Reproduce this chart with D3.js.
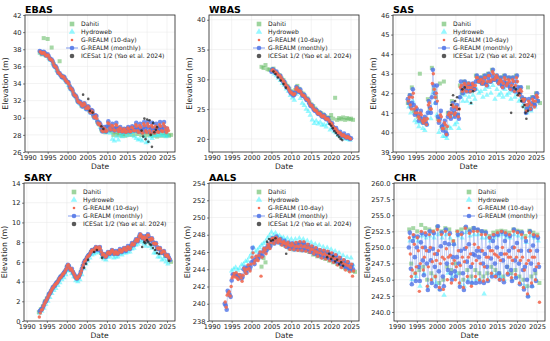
<!DOCTYPE html>
<html><head><meta charset="utf-8">
<script src="https://cdn.jsdelivr.net/npm/d3@7"></script>
<style>body{margin:0;background:#fff}svg{display:block}text{font-family:"DejaVu Sans",sans-serif}</style>
</head><body>
<script>
// ---------------- DATA ----------------
const xTickYears = [1990,1995,2000,2005,2010,2015,2020,2025];
const legendLabels = ["Dahiti","Hydroweb","G-REALM (10-day)","G-REALM (monthly)","ICESat 1/2 (Yao et al. 2024)"];

// EBAS
const ebasYTicks = [26,28,30,32,34,36,38,40,42];
const ebasMonthly = [37.8,37.7,37.5,37.6, 37.7,37.6,37.3,37.3, 37.4,37.2,36.9,36.8, 36.8,36.6,36.2,36.0, 36.0,35.8,35.4,35.2, 35.2,35.0,34.8,34.7, 34.8,34.7,34.4,34.2, 34.2,34.1,33.7,33.4, 33.4,33.2,32.8,32.6, 32.6,32.4,32.0,31.8, 31.9,31.8,31.5,31.3, 31.6,31.7,31.3,31.0, 31.3,31.3,30.9,30.6, 30.9,30.8,30.3,30.0, 30.3,30.2,29.6,29.3, 29.4,29.2,28.7,28.4, 28.6,28.9,28.5,28.4, 29.0,29.6,29.0,28.6, 28.8,29.3,28.7,28.5, 28.8,29.4,28.8,28.5, 28.7,28.9,28.5,28.4, 28.6,28.7,28.4,28.4, 28.7,28.9,28.5,28.4, 28.8,29.0,28.6,28.5, 28.9,29.4,28.7,28.4, 28.8,29.3,28.6,28.3, 28.9,29.5,28.7,28.4, 29.0,29.5,28.8,28.3, 28.8,29.4,28.6,28.3, 28.7,29.3,28.6,28.4, 28.9,29.5,28.7,28.5, 29.0,29.5,28.8,28.4, 28.7];
const ebas10day = [37.7,37.6,37.5,37.6, 37.6,37.4,37.2,37.3, 37.3,37.0,36.8,36.8, 36.7,36.4,36.1,36.0, 35.9,35.6,35.3,35.2, 35.1,34.9,34.8,34.8, 34.7,34.5,34.3,34.2, 34.1,33.9,33.5,33.4, 33.3,33.0,32.7,32.6, 32.5,32.2,31.9,31.8, 31.8,31.6,31.4,31.4, 31.7,31.5,31.1,31.1, 31.3,31.1,30.7,30.6, 30.8,30.6,30.1,30.0, 30.2,29.9,29.4,29.2, 29.3,29.0,28.5,28.4, 28.8,28.7,28.4,28.5, 29.4,29.3,28.8,28.6, 29.1,29.0,28.6,28.5, 29.2,29.1,28.6,28.4, 28.8,28.7,28.4,28.4, 28.7,28.6,28.3,28.4, 28.8,28.7,28.4,28.4, 28.9,28.8,28.5,28.5, 29.2,29.0,28.5,28.3, 29.1,28.9,28.4,28.2, 29.3,29.1,28.5,28.3, 29.3,29.0,28.5,28.2, 29.1,28.9,28.4,28.2, 29.0,28.8,28.4,28.3, 29.2,29.0,28.5,28.4, 29.3,29.0,28.6,28.3, 28.8,28.5];
const ebasDahiti = [37.6,37.4, 39.3,37.3, 39.2,36.9, 38.2,36.3, 35.9,35.5, 36.6,34.9, 34.7,34.4, 34.1,33.6, 33.3,32.8, 32.5,32.0, 31.8,31.4, 31.6,31.2, 31.2,30.8, 30.7,30.2, 30.1,29.5, 29.2,28.6, 28.5,28.3, 28.9,28.5, 28.4,28.0, 28.3,28.0, 28.2,27.9, 28.1,27.9, 28.3,28.0, 28.4,28.0, 28.5,28.1, 28.4,28.0, 28.3,27.9, 28.3,28.0, 28.1,27.9, 28.2,27.8, 28.3,27.9, 28.2,27.9, 28.0,27.9, 28.0];
const ebasHydroweb = [37.6,37.5, 37.4,37.2, 37.0,36.7, 36.4,36.0, 35.6,35.2, 35.0,34.7, 34.5,34.2, 33.8,33.4, 33.1,32.6, 32.3,31.8, 31.6,31.3, 31.5,31.0, 31.1,30.6, 30.6,30.0, 29.9,29.3, 28.9,28.4, 28.6,28.3, 29.2,28.2, 27.5,27.3, 27.8,27.4, 28.0,27.8, 28.2,27.9, 28.3,28.0, 28.3,27.8, 27.6,27.4, 27.5,27.3, 27.8,27.1, 27.2,27.8, 27.6,27.9, 28.0,27.9, 28.1,27.9, 28.0,27.8, 27.9];
const ebasIcesatYears = [2003.9,2005.2,2005.6,2006.3,2008.5,2009.0,2018.6,2019.0,2019.3,2019.6,2020.0,2020.3,2020.6,2020.9,2021.2,2021.5,2021.8,2022.2,2022.5];
const ebasIcesat = [32.7,32.2,30.8,30.6,29.0,28.7,28.5,27.8,29.9,27.5,29.8,27.2,29.7,28.0,26.6,29.4,28.3,28.6,28.9];

// WBAS
const wbasYTicks = [20,25,30,35,40];
const wbasMonthly = [31.3,31.7,31.6,31.3, 31.1,31.3,30.9,30.6, 30.5,30.6,30.1,29.8, 29.6,29.6,29.1,28.8, 28.6,28.6,28.1,27.8, 27.6,27.8,27.3,27.4, 27.8,28.7,28.5,28.0, 27.9,28.3,27.7,27.3, 27.2,27.4,26.9,26.6, 26.5,26.6,26.0,25.6, 25.5,25.6,25.1,24.8, 24.7,24.9,24.4,24.2, 24.2,24.4,23.9,23.7, 23.8,24.0,23.5,23.3, 23.3,23.5,23.0,22.7, 22.5,22.6,22.0,21.7, 21.6,21.8,21.3,21.0, 21.0,21.2,20.7,20.5, 20.6,20.9,20.4,20.2, 20.3,20.6,20.2,20.0, 20.1];
const wbas10day = [31.5,31.6,31.4,31.2, 31.2,31.0,30.7,30.6, 30.6,30.3,30.0,29.8, 29.6,29.3,29.0,28.8, 28.6,28.3,28.0,27.8, 27.7,27.5,27.4,27.6, 28.3,28.6,28.2,28.0, 28.1,27.9,27.5,27.3, 27.3,27.1,26.8,26.6, 26.6,26.3,25.9,25.6, 25.6,25.3,25.0,24.8, 24.8,24.6,24.3,24.2, 24.3,24.1,23.8,23.7, 23.9,23.7,23.4,23.3, 23.4,23.2,22.9,22.6, 22.6,22.2,21.9,21.7, 21.7,21.4,21.2,21.0, 21.1,20.9,20.6,20.5, 20.7,20.5,20.3,20.2, 20.4,20.3,20.1,20.0];
const wbasDahiti = [32.1,31.9,32.4,31.7,31.6,31.6,31.8,31.2,30.9,30.7,30.2,29.9,29.3,28.9,28.4,28.0,27.6,28.2,28.9,28.4,27.8,27.6,27.1,26.8,26.2,25.8,25.5,25.1,24.7,24.5,24.3,24.1,23.8,23.6,23.5,24.0,23.4,26.9,23.2,23.5,23.3,23.6,23.2,23.5,23.3,23.4,23.2];
const wbasHydroweb = [31.2,30.9, 30.6,30.2, 29.8,29.3, 29.0,28.4, 28.0,27.3, 26.9,26.5, 27.5,27.8, 26.8,26.0, 25.6,25.0, 24.6,24.0, 23.2,22.6, 23.0,22.5, 22.8,22.3, 22.4,22.0, 22.6,21.5, 21.8,21.2, 21.0,20.6, 20.4,20.2, 20.2,20.0, 19.9,19.8];
const wbasIcesatYears = [2005.5,2006.0,2006.6,2007.3,2008.0,2008.6,2019.6,2020.0,2020.4,2020.8,2021.2,2021.6,2022.0,2022.4,2022.8];
const wbasIcesat = [31.3,30.9,30.3,29.8,29.2,28.6,22.5,22.2,21.8,21.3,21.0,20.6,20.3,20.0,19.8];

// SAS
const sasYTicks = [39,40,41,42,43,44,45,46];
const sasMonthly = [41.7,41.5,41.9,41.3, 41.5,42.2,41.4,40.9, 41.1,41.2,40.9,40.6, 40.8,41.1,40.7,40.5, 40.6,40.8,40.5,40.4, 41.0,41.6,41.3,41.0, 41.8,43.2,42.4,42.0, 41.5,42.4,40.8,40.5, 40.7,41.1,40.3,40.1, 40.4,40.6,40.0,39.9, 40.8,41.0,40.9,40.7, 41.2,41.5,41.0,40.8, 41.2,41.4,40.9,40.7, 41.8,42.6,42.2,42.0, 42.4,42.6,42.2,42.1, 42.4,42.5,42.1,42.2, 42.4,42.5,42.2,42.2, 42.6,42.9,42.7,42.6, 42.6,42.8,42.5,42.5, 42.7,42.9,42.5,42.4, 42.8,43.0,42.6,42.6, 42.9,43.2,42.7,42.7, 42.8,42.9,42.6,42.5, 42.6,42.8,42.4,42.3, 42.6,42.9,42.5,42.4, 42.5,42.8,42.3,42.2, 42.5,42.8,42.2,42.1, 42.6,42.9,42.3,42.0, 42.0,42.3,41.8,41.6, 41.6,41.7,41.0,41.2, 41.4,41.7,41.2,41.2, 41.5,41.8,41.4,41.4, 41.8,42.0,41.6];
const sas10day = [41.6,41.8,41.4,41.2, 41.8,42.0,41.2,41.0, 41.3,41.0,40.8,40.7, 41.0,40.9,40.6,40.5, 40.7,40.6,40.4,40.7, 41.4,41.5,41.2,41.2, 42.5,43.0,42.2,41.8, 42.0,41.6,40.6,40.6, 40.9,40.8,40.2,40.2, 40.5,40.4,39.9,40.3, 40.9,41.0,40.8,41.0, 41.4,41.3,40.9,41.0, 41.3,41.2,40.8,41.2, 42.3,42.4,42.1,42.2, 42.5,42.4,42.1,42.3, 42.5,42.3,42.1,42.3, 42.5,42.4,42.2,42.4, 42.8,42.8,42.6,42.6, 42.7,42.7,42.5,42.6, 42.8,42.8,42.4,42.6, 42.9,42.9,42.6,42.7, 43.1,43.0,42.7,42.8, 42.9,42.8,42.5,42.6, 42.7,42.6,42.3,42.5, 42.8,42.7,42.4,42.5, 42.7,42.6,42.2,42.4, 42.7,42.6,42.1,42.4, 42.8,42.6,42.1,41.9, 42.2,42.1,41.7,41.6, 41.7,41.4,41.1,41.4, 41.6,41.5,41.2,41.4, 41.7,41.6,41.3,41.6, 41.9,41.8];
const sasDahiti = [41.5,41.9, 42.3,41.1, 41.0,40.8, 43.0,40.6, 40.5,40.7, 41.7,41.2, 43.3,42.2, 41.8,40.7, 42.5,40.3, 42.6,40.2, 41.0,40.9, 41.6,41.0, 41.3,40.9, 42.4,42.0, 42.6,42.2, 42.5,42.1, 42.4,42.2, 42.9,42.6, 42.8,42.5, 42.9,42.5, 43.0,42.6, 43.2,42.7, 42.9,42.6, 42.8,42.4, 42.9,42.5, 42.8,42.3, 42.8,42.2, 42.9,42.1, 42.3,41.7, 41.7,41.2, 42.3,41.3, 41.8,41.5, 42.0,41.6, 41.5];
const sasHydroweb = [41.3,41.0, 41.6,40.6, 40.5,40.3, 40.5,40.2, 40.1,40.4, 41.0,40.7, 42.0,41.5, 40.9,40.0, 40.2,39.8, 39.8,39.7, 40.3,40.2, 40.8,40.4, 40.5,40.2, 41.8,41.6, 41.9,41.6, 41.8,41.5, 41.9,41.7, 42.2,42.0, 42.1,41.8, 42.2,41.9, 42.3,42.0, 42.4,41.7, 42.2,41.9, 42.0,41.8, 42.2,41.9, 42.0,41.7, 42.1,41.8, 42.0,41.6, 41.7,41.4, 41.3,41.0, 41.3,41.1, 41.5,41.3, 41.6];
const sasIcesatYears = [2003.8,2004.3,2004.8,2005.3,2005.8,2006.6,2007.2,2008.8,2009.3,2018.8,2019.5,2020.0,2020.4,2020.8,2021.3,2021.7,2022.1,2022.4,2022.6,2023.0];
const sasIcesat = [41.4,41.9,41.6,41.8,41.2,42.2,42.3,41.5,42.1,41.0,42.3,42.2,41.9,42.0,41.6,41.3,41.4,41.0,40.7,41.1];

// SARY
const saryYTicks = [0,2,4,6,8,10,12,14];
const saryMonthly = [1.0,1.1,1.2, 1.4,1.6,1.9,2.0, 2.2,2.4,2.7,2.8, 3.0,3.2,3.4,3.5, 3.6,3.8,3.9,4.0, 4.2,4.4,4.5,4.6, 4.7,4.9,5.0,5.2, 5.5,5.7,5.6,5.3, 5.2,5.3,5.0,4.8, 4.6,4.4,4.3,4.4, 4.5,4.7,5.0,5.3, 5.6,5.9,6.1,6.2, 6.4,6.6,6.7,6.8, 7.0,7.2,7.2,7.1, 7.3,7.5,7.4,7.2, 7.4,7.5,7.1,6.8, 6.7,6.8,6.6,6.5, 6.7,7.0,6.9,6.8, 7.0,7.2,7.1,6.8, 6.9,7.1,6.9,6.8, 7.1,7.3,7.1,7.0, 7.2,7.4,7.3,7.1, 7.4,7.6,7.4,7.3, 7.6,7.9,7.8,7.7, 8.0,8.3,8.2,8.1, 8.5,8.8,8.7,8.5, 8.4,8.6,8.3,8.2, 8.6,8.8,8.5,8.2, 8.3,8.4,8.0,7.8, 7.8,7.9,7.5,7.3, 7.3,7.4,7.0,6.9, 7.0,7.1,6.8,6.6, 6.6,6.7,6.4,6.2];
const sary10day = [0.4,0.8,1.1,1.2, 1.5,1.7,1.9,2.1, 2.3,2.5,2.7,2.9, 3.1,3.3,3.4,3.6, 3.7,3.8,3.9,4.1, 4.3,4.4,4.5,4.7, 4.8,4.9,5.1,5.3, 5.6,5.7,5.4,5.2, 5.3,5.1,4.9,4.7, 4.5,4.3,4.3,4.5, 4.6,4.8,5.1,5.4, 5.7,6.0,6.1,6.3, 6.5,6.6,6.7,6.9, 7.1,7.2,7.1,7.2, 7.4,7.5,7.3,7.3, 7.5,7.3,7.0,6.7, 6.8,6.7,6.5,6.6, 6.9,7.0,6.8,6.9, 7.1,7.2,7.0,6.8, 7.0,7.0,6.8,6.9, 7.2,7.2,7.0,7.1, 7.3,7.4,7.2,7.2, 7.5,7.5,7.3,7.4, 7.7,7.9,7.7,7.8, 8.1,8.3,8.1,8.3, 8.6,8.8,8.6,8.4, 8.5,8.5,8.2,8.4, 8.7,8.7,8.3,8.2, 8.4,8.3,7.9,7.8, 7.9,7.8,7.4,7.3, 7.4,7.3,6.9,7.0, 7.1,7.0,6.7,6.6, 6.7,6.5,6.3];
const saryDahiti = [0.9,1.2, 1.5,2.0, 2.3,2.7, 3.0,3.4, 3.6,3.9, 4.2,4.5, 4.7,5.0, 5.5,5.5, 5.2,4.9, 4.5,4.3, 4.5,5.0, 5.6,6.1, 6.4,6.7, 7.0,7.1, 7.3,7.3, 7.4,6.9, 6.6,6.5, 6.8,6.8, 7.0,6.9, 6.9,6.8, 7.1,7.0, 7.2,7.2, 7.4,7.3, 7.6,7.7, 8.0,8.1, 8.5,8.5, 8.4,8.2, 8.6,8.3, 8.3,7.8, 7.8,7.3, 7.3,6.9, 7.0,6.6, 6.6,6.2, 6.0];
const saryHydroweb = [0.8,1.0, 1.3,1.7, 2.0,2.4, 2.8,3.1, 3.3,3.6, 3.9,4.2, 4.4,4.7, 5.1,5.1, 4.8,4.5, 4.1,4.0, 4.2,4.7, 5.3,5.8, 6.1,6.4, 6.7,6.8, 6.9,7.0, 7.0,6.5, 6.3,6.2, 6.5,6.5, 6.7,6.4, 6.5,6.5, 6.8,6.7, 6.9,6.9, 7.0,7.0, 7.3,7.4, 7.7,7.8, 8.2,8.0, 7.8,7.6, 8.0,7.6, 7.4,6.9, 6.9,6.5, 6.5,6.2, 6.3,6.0, 5.8];
const saryIcesatYears = [2004.3,2004.8,2005.3,2006.8,2007.5,2008.8,2018.8,2019.3,2019.6,2020.0,2020.3,2020.7,2021.0,2021.5,2022.0,2022.5,2023.0,2025.5];
const saryIcesat = [5.4,5.8,6.2,7.0,7.2,6.4,7.5,8.0,7.9,8.2,8.0,7.8,7.7,7.4,7.2,6.9,6.8,6.1];

// AALS
const aalsYTicks = [238,240,242,244,246,248,250,252,254];
const aalsMonthly = [240.0,239.8,239.3, 241.5,241.3,241.0,240.8, 242.7,243.4,243.4,243.3, 243.4,243.3,243.2,243.0, 243.1,243.3,242.9,243.1, 244.0,244.2,243.7,243.6, 244.2,244.4,244.0,244.3, 244.8,246.5,245.0,244.6, 245.1,245.4,245.2,245.3, 245.7,245.9,245.5,245.6, 246.1,246.4,246.0,246.2, 246.6,246.9,246.5,246.7, 247.3,247.6,247.2,247.0, 247.5,247.8,247.3,247.1, 247.3,247.5,247.0,246.9, 247.0,247.3,246.8,246.6, 246.9,247.1,246.5,246.4, 246.8,247.0,246.5,246.3, 246.8,247.0,246.4,246.3, 246.9,247.1,246.5,246.2, 246.9,247.0,246.4,246.2, 246.6,246.8,246.2,246.0, 246.4,246.6,246.0,245.8, 246.2,246.4,245.7,245.6, 246.0,246.2,245.6,245.4, 245.9,246.1,245.5,245.3, 245.8,246.0,245.3,245.1, 245.6,245.8,245.1,244.9, 245.4,245.6,244.9,244.7, 245.1,245.3,244.6,244.4, 244.8,245.0,244.3,244.2, 244.6,244.8,244.1,243.9, 244.3,244.5,244.0];
const aals10day = [240.2,239.6,241.0, 241.2,241.4,240.9,242.0, 243.0,243.2,243.5,243.1, 243.6,243.0,242.8,243.4, 243.3,243.0,242.6,243.3, 244.1,243.8,243.5,244.0, 244.5,244.1,243.8,244.6, 245.4,245.9,244.7,245.0, 245.5,245.2,245.0,245.6, 246.0,243.2,245.4,246.0, 246.4,246.2,245.8,246.5, 246.9,246.7,246.4,247.1, 247.5,247.6,247.0,247.3, 247.7,247.5,247.1,247.3, 247.5,247.2,246.8,247.1, 247.2,247.0,246.6,246.9, 247.1,246.8,246.3,246.7, 247.0,246.8,246.3,246.6, 247.1,246.7,246.2,246.6, 247.2,246.8,246.2,246.6, 247.2,246.7,246.1,246.5, 246.9,246.5,246.0,246.3, 246.7,246.3,245.8,246.1, 246.5,246.0,245.5,245.9, 246.3,245.9,245.3,245.7, 246.2,245.8,245.2,245.6, 246.1,245.6,245.0,245.4, 245.9,245.4,244.8,245.2, 245.7,245.2,244.5,245.0, 245.4,244.9,244.2,244.7, 245.1,244.6,243.9,244.5, 244.9,244.4,243.7,244.2, 244.6,243.2,243.8];
const aalsDahiti = [244.3, 245.3,244.8, 246.4,246.8, 247.4,247.0, 247.6,247.2, 247.4,246.9, 247.1,246.7, 246.9,246.4, 246.9,246.3, 246.9,246.3, 247.0,246.2, 246.9,246.2, 246.6,246.0, 246.4,245.7, 246.2,245.5, 246.0,245.4, 245.9,245.2, 245.8,245.0, 245.6,244.8, 245.4,244.6, 245.1,244.3, 244.8,244.1, 244.6,243.9, 244.3,243.8, 243.7];
const aalsHydroweb = [243.8,244.0, 244.2,243.9, 244.1,244.5, 244.6,244.9, 245.0,245.4, 245.8,246.5, 246.0,246.2, 246.5,246.8, 247.0,247.2, 247.6,247.9, 248.3,247.9, 248.2,247.8, 247.9,247.6, 247.7,247.3, 247.6,247.1, 247.5,246.9, 247.5,246.9, 247.6,246.8, 247.5,246.8, 247.3,246.6, 247.1,246.4, 246.9,246.2, 246.8,246.0, 246.6,245.9, 246.5,245.7, 246.3,245.5, 246.1,245.3, 245.9,245.0, 245.6,244.8, 245.4,244.6, 245.3,244.5];
const aalsIcesatYears = [2003.9,2004.4,2004.9,2005.4,2006.0,2008.7,2019.0,2019.5,2020.0,2020.5,2021.0,2021.5,2022.0,2022.5,2023.0];
const aalsIcesat = [247.2,247.5,247.3,247.4,247.6,245.8,245.4,245.8,245.2,245.5,244.9,245.1,244.6,244.8,244.4];

// CHR
const chrYTicks = [240,242.5,245,247.5,250,252.5,255,257.5,260];
const chrMonthly = [250.0,252.3,246.7,244.3, 251.0,251.8,248.5,244.8, 250.0,251.7,247.0,244.8, 250.8,252.2,248.0,245.7, 250.0,252.0,247.5,243.4, 249.5,252.5,248.0,244.5, 249.8,252.2,247.0,244.0, 249.0,253.3,246.3,243.5, 250.2,252.3,245.5,244.0, 250.7,252.8,247.5,246.5, 250.5,252.2,246.0,245.0, 248.5,250.5,246.3,245.5, 248.5,252.0,247.5,243.9, 249.5,252.2,246.0,243.4, 249.8,253.2,247.8,244.6, 250.5,252.5,247.0,244.5, 249.0,253.0,248.8,244.5, 249.5,252.8,248.5,244.6, 249.5,252.5,247.5,244.5, 249.0,252.3,247.0,244.8, 250.0,251.5,248.3,245.5, 251.0,251.9,247.5,245.5, 250.0,252.0,246.0,245.0, 249.0,252.4,248.0,244.6, 251.0,252.0,247.0,245.8, 249.5,251.8,246.5,244.8, 250.0,252.8,248.0,245.3, 250.7,252.4,247.5,244.3, 249.5,252.3,246.5,243.5, 247.0,251.0,245.0,242.4, 249.5,252.5,247.5,244.0, 250.3,251.8,246.5,244.8, 249.5,251.5,247.0];
const chr10day = [251.5,249.0,245.5,246.5, 252.0,250.5,246.0,247.0, 251.5,249.5,243.2,247.5, 252.5,250.0,246.5,248.5, 252.3,249.5,244.0,247.0, 252.0,250.0,245.0,247.8, 252.5,249.0,245.5,248.0, 252.8,249.5,243.8,247.5, 252.0,248.5,243.5,248.2, 252.5,249.8,245.0,248.5, 252.0,248.8,244.5,247.5, 251.0,248.0,245.0,247.0, 252.5,249.5,244.5,247.2, 252.0,248.5,243.8,247.8, 253.0,250.0,245.5,248.5, 252.2,249.0,244.0,247.5, 252.5,250.5,245.5,248.0, 252.5,250.0,245.0,247.5, 252.0,249.5,244.8,247.0, 252.0,248.5,245.0,248.5, 251.5,249.5,246.0,249.5, 252.0,249.0,245.5,248.8, 252.3,248.5,245.0,248.0, 252.5,250.0,245.0,249.0, 252.3,249.0,246.0,248.5, 252.0,248.5,245.3,248.0, 252.5,250.0,245.8,248.5, 252.3,249.5,244.5,248.0, 252.0,248.5,243.8,246.5, 251.5,247.5,242.8,248.0, 252.3,249.5,244.5,248.5, 252.0,248.5,245.0,247.0, 251.8,247.5,241.5];
const chrDahiti = [252.8,247.5, 253.0,246.0, 252.5,246.5, 253.5,247.0, 253.0,245.0, 252.8,246.0, 252.5,245.5, 253.2,244.5, 252.5,245.0, 253.0,247.0, 252.8,246.5, 251.0,247.5, 252.5,246.0, 252.8,245.0, 253.0,246.5, 252.8,245.5, 253.0,246.5, 252.7,246.0, 252.5,245.5, 252.5,246.0, 251.8,247.0, 252.3,246.5, 252.5,246.0, 252.6,245.5, 252.5,247.0, 252.3,246.0, 252.8,246.5, 252.6,245.5, 252.5,245.0, 251.8,244.0, 252.6,245.5, 252.3,246.0, 252.0,244.5];
const chrHydroweb = [251.0,245.0, 251.5,245.5, 251.0,244.0, 251.8,246.0, 251.5,244.0, 251.8,245.0, 251.5,244.5, 252.0,243.5, 251.5,242.6, 252.0,246.0, 251.5,245.5, 250.5,246.0, 251.8,244.5, 251.5,244.0, 252.3,245.0, 251.8,244.5, 252.0,245.0, 252.0,245.0, 251.5,242.8, 251.5,245.0, 251.0,246.0, 251.5,245.8, 251.8,245.5, 252.0,245.0, 251.6,246.0, 251.5,245.0, 252.0,245.5, 251.8,244.5, 251.5,244.0, 250.8,242.5, 251.8,244.0, 251.5,245.0, 251.0];

// ---------------- LAYOUT ----------------
const W = 550, H = 341;
const svg = d3.select("body").append("svg").attr("width", W).attr("height", H);
const series = (start, step, vals) => vals.map((v, i) => [start + i * step, v]);
const pairs = (xs, vs) => xs.map((x, i) => [x, vs[i]]);

const panels = [
  {title:"EBAS", box:[25,15,175,152], y:[26,42], yt:ebasYTicks, fmt:d3.format("d"), lx:47, ylab:-17, ice:true,
   m:series(1993,0.25,ebasMonthly), r:series(1993.125,0.25,ebas10day), d:series(1993,0.5,ebasDahiti), h:series(1993.25,0.5,ebasHydroweb), i:pairs(ebasIcesatYears,ebasIcesat)},
  {title:"WBAS", box:[209,15,359,152], y:[17.8,40.8], yt:wbasYTicks, fmt:d3.format("d"), lx:50, ylab:-17, ice:true,
   m:series(2005,0.25,wbasMonthly), r:series(2005.125,0.25,wbas10day), d:series(2002.5,0.5,wbasDahiti), h:series(2005.25,0.5,wbasHydroweb), i:pairs(wbasIcesatYears,wbasIcesat)},
  {title:"SAS", box:[393,15,544,152], y:[39,46], yt:sasYTicks, fmt:d3.format("d"), lx:51, ylab:-17, ice:true,
   m:series(1993,0.25,sasMonthly), r:series(1993.125,0.25,sas10day), d:series(1993,0.5,sasDahiti), h:series(1993.25,0.5,sasHydroweb), i:pairs(sasIcesatYears,sasIcesat)},
  {title:"SARY", box:[24,183,175,321], y:[0,14], yt:saryYTicks, fmt:d3.format("d"), lx:50, ylab:-17, ice:true,
   m:series(1993.25,0.25,saryMonthly), r:series(1993.125,0.25,sary10day), d:series(1993,0.5,saryDahiti), h:series(1993.25,0.5,saryHydroweb), i:pairs(saryIcesatYears,saryIcesat)},
  {title:"AALS", box:[209,183,359,321], y:[238,254], yt:aalsYTicks, fmt:d3.format("d"), lx:50, ylab:-19, ice:true,
   m:series(1993.25,0.25,aalsMonthly), r:series(1993.375,0.25,aals10day), d:series(2002.5,0.5,aalsDahiti), h:series(1995,0.5,aalsHydroweb), i:pairs(aalsIcesatYears,aalsIcesat)},
  {title:"CHR", box:[394,183,545,321], y:[238.6,260], yt:chrYTicks, fmt:d3.format(".1f"), lx:75, ylab:-24, ice:false,
   m:series(1993,0.25,chrMonthly), r:series(1993.125,0.25,chr10day), d:series(1993.1,0.5,chrDahiti), h:series(1993.3,0.5,chrHydroweb), i:[]}
];

const C = {dah:"#5cb85c", hyd:"#2ef2ff", red:"#f26a52", blue:"#4f73e6", ice:"#222"};
const tri = d3.symbol().type(d3.symbolTriangle).size(13);
const triL = d3.symbol().type(d3.symbolTriangle).size(18);

panels.forEach((p, k) => {
  const [x0,y0,x1,y1] = p.box;
  const x = d3.scaleLinear().domain([1989.3, 2027]).range([x0, x1]);
  const y = d3.scaleLinear().domain(p.y).range([y1, y0]);
  const g = svg.append("g");
  const cid = "clip" + k;
  g.append("clipPath").attr("id", cid).append("rect").attr("x", x0).attr("y", y0).attr("width", x1-x0).attr("height", y1-y0);

  // grid
  const grid = g.append("g").attr("stroke", "#e6e6e6").attr("stroke-width", 0.5);
  xTickYears.forEach(t => grid.append("line").attr("x1", x(t)).attr("x2", x(t)).attr("y1", y0).attr("y2", y1));
  p.yt.forEach(t => { if (y(t) > y0 + 0.5 && y(t) < y1 - 0.5) grid.append("line").attr("x1", x0).attr("x2", x1).attr("y1", y(t)).attr("y2", y(t)); });

  const plot = g.append("g").attr("clip-path", `url(#${cid})`);
  // Dahiti
  plot.append("g").attr("fill", C.dah).attr("fill-opacity", 0.55).selectAll("rect").data(p.d).join("rect")
    .attr("x", d => x(d[0]) - 2).attr("y", d => y(d[1]) - 2).attr("width", 4).attr("height", 4);
  // Hydroweb
  plot.append("g").attr("fill", C.hyd).attr("fill-opacity", 0.5).selectAll("path").data(p.h).join("path")
    .attr("d", tri).attr("transform", d => `translate(${x(d[0])},${y(d[1])})`);
  // Monthly
  plot.append("path").datum(p.m).attr("fill", "none").attr("stroke", C.blue).attr("stroke-opacity", 0.55).attr("stroke-width", 0.6)
    .attr("d", d3.line().x(d => x(d[0])).y(d => y(d[1])));
  plot.append("g").attr("fill", C.blue).attr("fill-opacity", 0.8).selectAll("circle").data(p.m).join("circle")
    .attr("cx", d => x(d[0])).attr("cy", d => y(d[1])).attr("r", 2.3);
  // 10-day
  plot.append("g").attr("fill", C.red).attr("fill-opacity", 0.9).selectAll("circle").data(p.r).join("circle")
    .attr("cx", d => x(d[0])).attr("cy", d => y(d[1])).attr("r", 1.7);
  // ICESat
  plot.append("g").attr("fill", C.ice).attr("fill-opacity", 0.75).selectAll("circle").data(p.i).join("circle")
    .attr("cx", d => x(d[0])).attr("cy", d => y(d[1])).attr("r", 1.3);

  // axes
  const ax = g.append("g").attr("transform", `translate(0,${y1})`)
    .call(d3.axisBottom(x).tickValues(xTickYears).tickFormat(d3.format("d")).tickSize(2).tickPadding(0.8));
  const ay = g.append("g").attr("transform", `translate(${x0},0)`)
    .call(d3.axisLeft(y).tickValues(p.yt).tickFormat(p.fmt).tickSize(2).tickPadding(1.5));
  [ax, ay].forEach(a => { a.select(".domain").remove(); a.selectAll("line").attr("stroke", "#333").attr("stroke-width", 0.6);
    a.selectAll("text").attr("font-size", 6.7).attr("fill", "#222").attr("font-family", "DejaVu Sans"); });
  g.append("rect").attr("x", x0).attr("y", y0).attr("width", x1-x0).attr("height", y1-y0)
    .attr("fill", "none").attr("stroke", "#222").attr("stroke-width", 0.8);

  // labels
  g.append("text").attr("x", x0).attr("y", y0 - 2.5).attr("font-size", 9.5).attr("font-weight", "bold").text(p.title);
  g.append("text").attr("x", (x0+x1)/2).attr("y", y1 + 16.5).attr("text-anchor", "middle").attr("font-size", 7.6).attr("fill", "#222").text("Date");
  g.append("text").attr("transform", `translate(${x0 + p.ylab},${(y0+y1)/2}) rotate(-90)`).attr("text-anchor", "middle")
    .attr("font-size", 7.8).attr("fill", "#222").text("Elevation (m)");

  // legend
  const lg = g.append("g").attr("transform", `translate(${x0 + p.lx},${y0 + 9})`);
  const n = p.ice ? 5 : 4;
  for (let j = 0; j < n; j++) {
    const e = lg.append("g").attr("transform", `translate(0,${j*8})`);
    if (j === 0) e.append("rect").attr("x", -2.3).attr("y", -2.3).attr("width", 4.6).attr("height", 4.6).attr("fill", C.dah).attr("fill-opacity", 0.6);
    if (j === 1) e.append("path").attr("d", triL).attr("fill", C.hyd).attr("fill-opacity", 0.5);
    if (j === 2) e.append("circle").attr("r", 1.3).attr("fill", C.red);
    if (j === 3) { e.append("line").attr("x1", -6).attr("x2", 6).attr("stroke", C.blue).attr("stroke-width", 0.7);
                   e.append("circle").attr("r", 2.3).attr("fill", C.blue).attr("fill-opacity", 0.85); }
    if (j === 4) e.append("circle").attr("r", 2.3).attr("fill", C.ice).attr("fill-opacity", 0.75);
    e.append("text").attr("x", 9).attr("y", 2.1).attr("font-size", 6.1).attr("fill", "#222").text(legendLabels[j]);
  }
});
</script>
</body></html>
